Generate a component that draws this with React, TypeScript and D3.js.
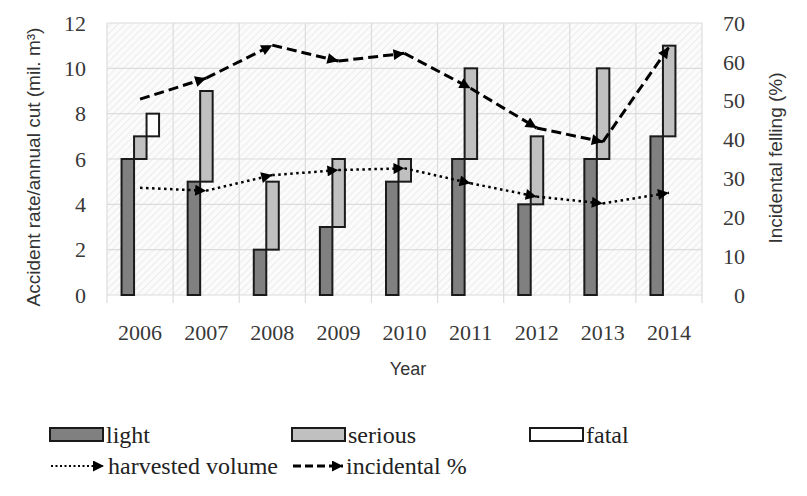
import { useEffect } from "react";
import { scaleBand, scaleLinear, line } from "d3";

const years = ["2006", "2007", "2008", "2009", "2010", "2011", "2012", "2013", "2014"];
const light = [6, 5, 2, 3, 5, 6, 4, 6, 7];
const serious = [1, 4, 3, 3, 1, 4, 3, 4, 4];
const fatal = [1, 0, 0, 0, 0, 0, 0, 0, 0];
// harvested volume, left axis (mil. m3)
const harvested = [4.73, 4.6, 5.29, 5.51, 5.59, 4.93, 4.34, 4.04, 4.51];
// incidental felling, right axis (%)
const incidental = [50.4, 55.8, 64.3, 60.2, 62.2, 53.2, 43, 39.4, 63.8];
const leftTicks = [0, 2, 4, 6, 8, 10, 12];
const rightTicks = [0, 10, 20, 30, 40, 50, 60, 70];
const subgroups = ["light", "serious", "fatal"];
const fills: Record<string, string> = { light: "#808080", serious: "#c0c0c0", fatal: "#ffffff" };

const W = 807;
const H = 496;
const plot = { left: 107, right: 702, top: 23, bottom: 295 };
const serif = { fontFamily: "\"Liberation Serif\", \"DejaVu Serif\", serif" };
const sans = { fontFamily: "\"Liberation Sans\", Arial, sans-serif" };

const App = () => {
  useEffect(() => {
    document.body.style.margin = "0";
  }, []);

  const x = scaleBand<string>().domain(years).range([plot.left, plot.right]);
  const sub = scaleBand<string>().domain(subgroups).range([-18.5, 19]);
  const yL = scaleLinear().domain([0, 12]).range([plot.bottom, plot.top]);
  const yR = scaleLinear().domain([0, 70]).range([plot.bottom, plot.top]);
  const cx = (d: string) => (x(d) as number) + x.bandwidth() / 2;

  // stacked, stepped bars
  const bars: { key: string; x: number; y0: number; y1: number; fill: string }[] = [];
  years.forEach((yr, i) => {
    const vals = [light[i], serious[i], fatal[i]];
    let base = 0;
    subgroups.forEach((s, j) => {
      if (vals[j] > 0) {
        bars.push({
          key: yr + s,
          x: cx(yr) + (sub(s) as number),
          y0: yL(base),
          y1: yL(base + vals[j]),
          fill: fills[s],
        });
      }
      base += vals[j];
    });
  });

  const seg = line<[number, number]>();
  const segments = (vals: number[], y: (v: number) => number) =>
    vals.slice(1).map((v, i) =>
      seg([
        [cx(years[i]), y(vals[i])],
        [cx(years[i + 1]), y(v)],
      ]) as string
    );

  const boundaries = years.map((d) => x(d) as number).concat([plot.right]);

  return (
    <svg width={W} height={H} style={{ display: "block", background: "#fff" }}>
      <defs>
        <pattern id="hatch" width="5" height="5" patternUnits="userSpaceOnUse" patternTransform="rotate(45)">
          <rect width="5" height="5" fill="#fbfbfb" />
          <line x1="0" y1="0" x2="0" y2="5" stroke="#e8e8e8" strokeWidth="1.5" />
        </pattern>
        <marker id="arrow" viewBox="0 0 10 10" refX="10" refY="5" markerWidth="13" markerHeight="11"
          markerUnits="userSpaceOnUse" orient="auto">
          <path d="M0,0 L10,5 L0,10 z" fill="#000" />
        </marker>
      </defs>

      <rect x={plot.left} y={plot.top} width={plot.right - plot.left} height={plot.bottom - plot.top} fill="url(#hatch)" />

      {leftTicks.map((t) => (
        <line key={"h" + t} x1={plot.left} x2={plot.right} y1={yL(t)} y2={yL(t)} stroke="#dcdcdc" strokeWidth={1.2} />
      ))}
      {boundaries.map((b, i) => (
        <line key={"v" + i} x1={b} x2={b} y1={plot.top} y2={plot.bottom + 8} stroke="#dcdcdc" strokeWidth={1.2} />
      ))}

      {bars.map((b) => (
        <rect key={b.key} x={b.x} y={b.y1} width={sub.bandwidth()} height={b.y0 - b.y1}
          fill={b.fill} stroke="#1a1a1a" strokeWidth={2} />
      ))}

      {segments(harvested, yL).map((d, i) => (
        <path key={"hv" + i} d={d} fill="none" stroke="#000" strokeWidth={2.5} strokeDasharray="2.5,3.5"
          markerEnd="url(#arrow)" />
      ))}
      {segments(incidental, yR).map((d, i) => (
        <path key={"in" + i} d={d} fill="none" stroke="#000" strokeWidth={3} strokeDasharray="10,5"
          markerEnd="url(#arrow)" />
      ))}

      {leftTicks.map((t) => (
        <text key={"lt" + t} x={86} y={yL(t)} dy="0.35em" textAnchor="end" style={serif} fontSize={22} fill="#383838">
          {t}
        </text>
      ))}
      {rightTicks.map((t) => (
        <text key={"rt" + t} x={745} y={yR(t)} dy="0.35em" textAnchor="end" style={serif} fontSize={22} fill="#383838">
          {t}
        </text>
      ))}
      {years.map((d) => (
        <text key={"xt" + d} x={cx(d)} y={332} dy="0.35em" textAnchor="middle" style={serif} fontSize={22} fill="#383838">
          {d}
        </text>
      ))}

      <text x={408} y={369} dy="0.35em" textAnchor="middle" style={sans} fontSize={18} fill="#333">
        Year
      </text>
      <text transform="translate(33,167) rotate(-90)" textAnchor="middle" dy="0.35em" style={sans} fontSize={19} fill="#333">
        Accident rate/annual cut (mil. m³)
      </text>
      <text transform="translate(775,158) rotate(-90)" textAnchor="middle" dy="0.35em" style={sans} fontSize={19} fill="#333">
        Incidental felling (%)
      </text>

      {/* legend */}
      {subgroups.map((s, i) => {
        const lx = [50, 292, 530][i];
        return (
          <g key={"lg" + s}>
            <rect x={lx} y={428} width={53} height={13} fill={fills[s]} stroke="#1a1a1a" strokeWidth={2} />
            <text x={lx + 56} y={435} dy="0.35em" style={serif} fontSize={24} fill="#222">
              {s}
            </text>
          </g>
        );
      })}
      <path d="M51,466 L104,466" stroke="#000" strokeWidth={2} strokeDasharray="2,2.5" markerEnd="url(#arrow)" fill="none" />
      <text x={108} y={466} dy="0.35em" style={serif} fontSize={24} fill="#222">
        harvested volume
      </text>
      <path d="M293,466 L343,466" stroke="#000" strokeWidth={3} strokeDasharray="8,4" markerEnd="url(#arrow)" fill="none" />
      <text x={346} y={466} dy="0.35em" style={serif} fontSize={24} fill="#222">
        incidental %
      </text>
    </svg>
  );
};

export default App;
